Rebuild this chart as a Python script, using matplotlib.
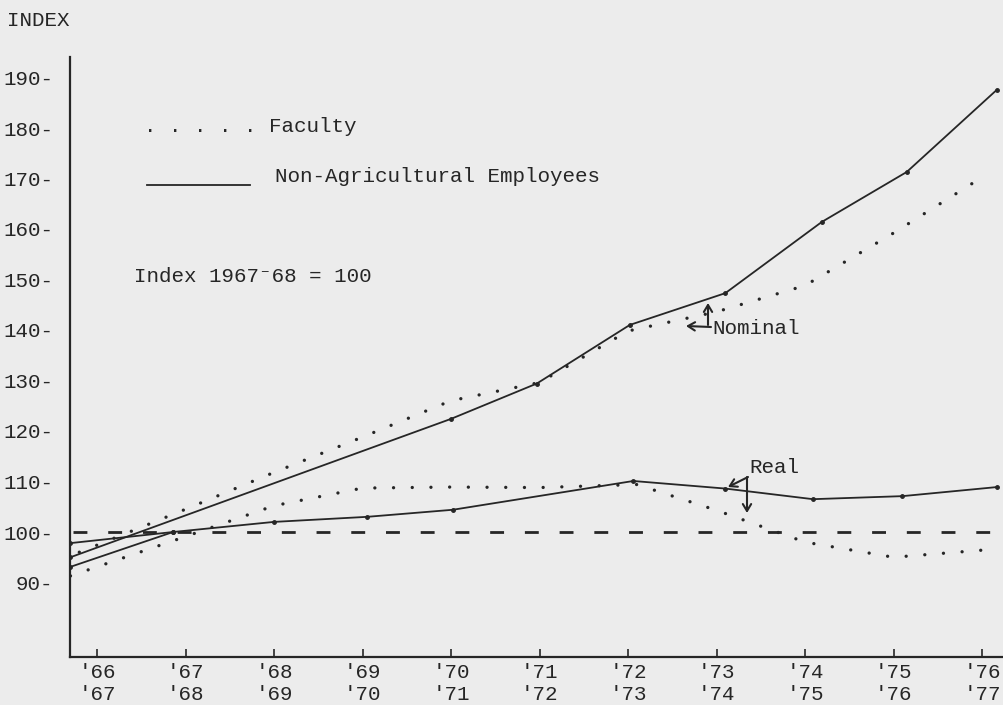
import matplotlib
matplotlib.use("Agg")
import matplotlib.pyplot as plt
from matplotlib.lines import Line2D

plt.rcParams['font.family'] = ['Liberation Mono', 'DejaVu Sans Mono']

# ---------------- data ----------------
# x = academic year start (1966 -> '66-'67)
tick_years = list(range(1966, 1977))
tick_labels = ["'66\n'67", "'67\n'68", "'68\n'69", "'69\n'70", "'70\n'71", "'71\n'72",
               "'72\n'73", "'73\n'74", "'74\n'75", "'75\n'76", "'76\n'77"]
y_ticks = [90, 100, 110, 120, 130, 140, 150, 160, 170, 180, 190]
y_tick_labels = [f"{v}-" for v in y_ticks]
base_index = 100

# Non-Agricultural Employees, nominal (solid)
nonag_nom_x = [1965.7, 1970.0, 1970.97, 1972.02, 1973.1, 1974.19, 1975.15, 1976.17]
nonag_nom_y = [95.0, 122.4, 129.4, 141.0, 147.3, 161.4, 171.3, 187.6]

# Non-Agricultural Employees, real (solid)
nonag_real_x = [1965.7, 1966.86, 1968.0, 1969.05, 1970.02, 1972.06, 1973.1, 1974.09, 1975.1, 1976.17]
nonag_real_y = [97.8, 100.0, 102.0, 103.0, 104.4, 110.1, 108.6, 106.5, 107.1, 108.9]

# extra solid segment joining the real line
nonag_join_x = [1965.7, 1966.86]
nonag_join_y = [93.1, 100.0]

# Faculty, nominal (dotted)
fac_nom_x = [1965.8, 1966, 1967, 1968, 1969, 1970, 1971, 1972, 1973, 1974, 1975, 1976.06]
fac_nom_y = [96.0, 97.4, 104.5, 111.8, 118.8, 126.0, 129.6, 139.8, 143.6, 148.8, 159.2, 170.9]

# Faculty, real (dotted)
fac_real_x = [1965.7, 1966, 1967, 1968, 1969, 1970, 1971, 1972.1, 1973, 1974, 1975, 1976, 1976.18]
fac_real_y = [91.3, 93.1, 99.1, 105.2, 108.7, 108.9, 108.8, 109.4, 104.3, 98.0, 95.0, 96.4, 97.2]

# ---------------- figure ----------------
W, H = 1004, 705
bg = '#ececec'
ink = '#262626'
fig = plt.figure(figsize=(W / 100, H / 100), dpi=100, facecolor=bg)
ax = fig.add_axes([70 / W, (H - 657) / H, (W - 70) / W, (657 - 57) / H])
ax.set_facecolor(bg)

ax.set_xlim(1966 - 27 / 88.5, 1966 + (W - 97) / 88.5)
ax.set_ylim(100 - (657 - 532) / 5.05, 100 + (532 - 57) / 5.05)

for s in ['top', 'right']:
    ax.spines[s].set_visible(False)
for s in ['left', 'bottom']:
    ax.spines[s].set_color(ink)
    ax.spines[s].set_linewidth(1.6)

ax.set_xticks(tick_years)
ax.set_xticklabels(tick_labels, fontsize=15, color=ink, linespacing=1.2)
ax.tick_params(axis='x', direction='in', length=6, width=1.2, color=ink, pad=4)
ax.set_yticks(y_ticks)
ax.set_yticklabels(y_tick_labels, fontsize=15, color=ink)
ax.tick_params(axis='y', length=0, pad=12)

line_kw = dict(color=ink, linewidth=1.3, solid_capstyle='round')
ax.plot(nonag_nom_x, nonag_nom_y, marker='o', markersize=2.5, **line_kw)
ax.plot(nonag_real_x, nonag_real_y, marker='o', markersize=2.5, **line_kw)
ax.plot(nonag_join_x, nonag_join_y, marker='o', markersize=2.5, **line_kw)

dot_kw = dict(color=ink, linewidth=2.4, linestyle=(0, (0.01, 5.6)), dash_capstyle='round')
ax.plot(fac_nom_x, fac_nom_y, **dot_kw)
ax.plot(fac_real_x, fac_real_y, **dot_kw)

ax.axhline(base_index, xmin=0.003, color=ink, linewidth=2.0, linestyle=(0, (5, 7.5)))

# ---------------- text ----------------
def fx(px):
    return px / W

def fy(py):
    return 1 - py / H

fig.text(fx(7), fy(21), 'INDEX', fontsize=15, color=ink, va='center', ha='left')
fig.text(fx(144), fy(127), '. . . . . Faculty', fontsize=15, color=ink, va='center', ha='left')
fig.add_artist(Line2D([fx(147), fx(250)], [fy(185), fy(185)], color=ink, linewidth=1.3))
fig.text(fx(275), fy(176), 'Non-Agricultural Employees', fontsize=15, color=ink, va='center', ha='left')
fig.text(fx(134), fy(277), 'Index 1967\u207b68 = 100', fontsize=15, color=ink, va='center', ha='left')

def px2d(px, py):
    return (1966 + (px - 97) / 88.5, 100 + (532 - py) / 5.05)

arrow = dict(arrowstyle='->,head_length=0.5,head_width=0.3', color=ink, lw=1.5, shrinkA=0, shrinkB=0)
ax.text(*px2d(712, 329), 'Nominal', fontsize=15, color=ink, va='center', ha='left')
ax.annotate('', xy=px2d(686, 326), xytext=px2d(711, 327), arrowprops=arrow)
ax.annotate('', xy=px2d(708, 303), xytext=px2d(708, 325), arrowprops=arrow)

ax.text(*px2d(749, 468), 'Real', fontsize=15, color=ink, va='center', ha='left')
ax.annotate('', xy=px2d(728, 487), xytext=px2d(748, 477), arrowprops=arrow)
ax.annotate('', xy=px2d(747, 513), xytext=px2d(747, 477), arrowprops=arrow)

fig.savefig('out.png', dpi=100, facecolor=bg)
